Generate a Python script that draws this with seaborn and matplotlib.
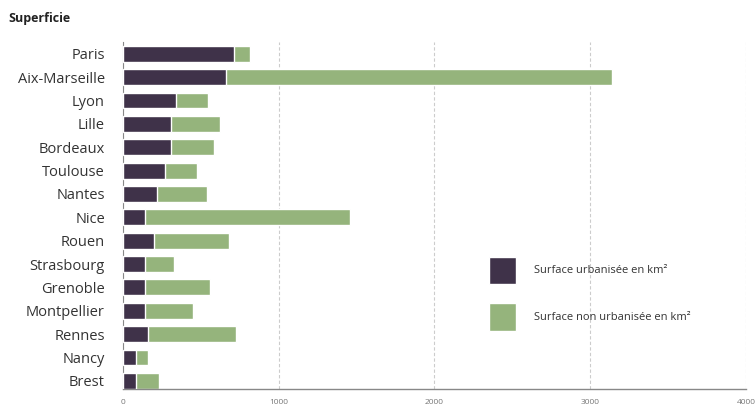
import numpy as np
import pandas as pd
import matplotlib
matplotlib.use("Agg")
import matplotlib.pyplot as plt
import seaborn as sns
from matplotlib.patches import Patch

# data (km2)
villes = ["Paris", "Aix-Marseille", "Lyon", "Lille", "Bordeaux", "Toulouse", "Nantes",
          "Nice", "Rouen", "Strasbourg", "Grenoble", "Montpellier", "Rennes", "Nancy", "Brest"]
urbanisee = [710, 660, 340, 310, 310, 270, 220, 140, 200, 140, 140, 140, 160, 85, 85]
non_urbanisee = [105, 2480, 205, 315, 275, 205, 320, 1320, 480, 190, 420, 310, 565, 75, 145]

col_urb = "#3f3249"
col_non = "#95b47c"

df = pd.DataFrame({"ville": villes, "urb": urbanisee, "non": non_urbanisee})
df["total"] = df["urb"] + df["non"]

sns.set_style("white")
plt.rcParams["font.family"] = ["Open Sans", "DejaVu Sans"]

fig = plt.figure(figsize=(7.56, 4.08), dpi=100)
ax = fig.add_axes([0.1627, 0.047, 0.824, 0.850])

# total first (green), urbanised part on top (dark)
sns.barplot(data=df, y="ville", x="total", color=col_non, orient="h", width=0.68,
            saturation=1, ax=ax, zorder=2)
sns.barplot(data=df, y="ville", x="urb", color=col_urb, orient="h", width=0.68,
            saturation=1, ax=ax, zorder=3)

ax.set_xlim(0, 4000)
ax.set_ylim(14.34, -0.5)
ax.set_xticks([0, 1000, 2000, 3000, 4000])
ax.set_xlabel("")
ax.set_ylabel("")
ax.tick_params(axis="x", labelsize=6, colors="#777777", length=0, pad=7)
ax.tick_params(axis="y", labelsize=10.5, colors="#333333", length=0, pad=13)
ax.xaxis.grid(True, color="#cccccc", linestyle=(0, (3, 2)), linewidth=0.8, zorder=0)
ax.set_axisbelow(True)

for s in ["top", "right"]:
    ax.spines[s].set_visible(False)
ax.spines["left"].set_color("#888888")
ax.spines["left"].set_linewidth(0.8)
ax.spines["bottom"].set_color("#888888")
ax.spines["bottom"].set_linewidth(1.0)

handles = [Patch(facecolor=col_urb, label="Surface urbanisée en km²"),
           Patch(facecolor=col_non, label="Surface non urbanisée en km²")]
leg = ax.legend(handles=handles, loc="upper left", bbox_to_anchor=(0.571, 0.41),
                frameon=False, fontsize=8, handlelength=2.5, handleheight=3.4,
                handletextpad=1.6, labelspacing=1.75)
for t in leg.get_texts():
    t.set_color("#333333")

fig.text(0.011, 0.955, "Superficie", fontsize=9, fontweight="bold", color="#222222",
         ha="left", va="center")

fig.savefig("out.png", dpi=100)
